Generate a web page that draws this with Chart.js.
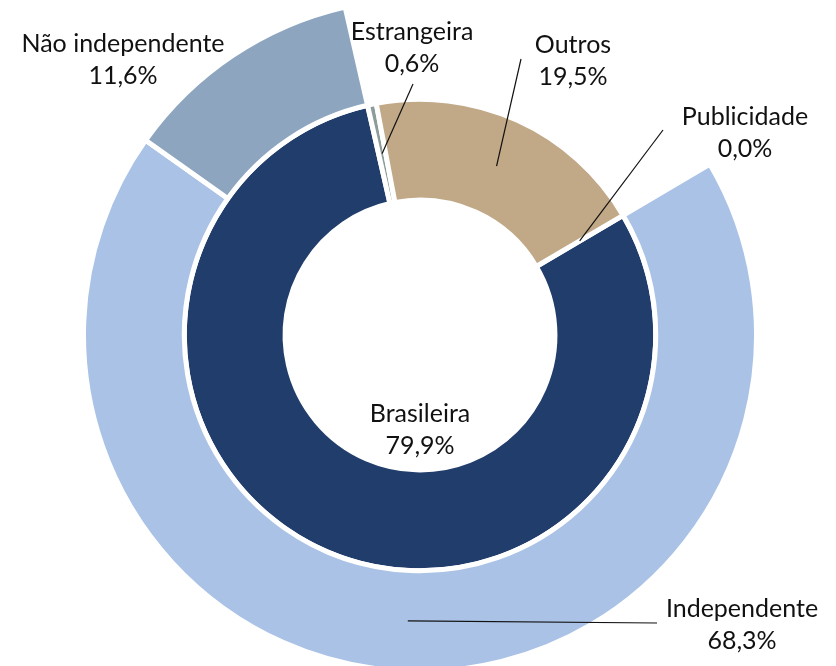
<!DOCTYPE html>
<html>
<head>
<meta charset="utf-8">
<script src="https://cdn.jsdelivr.net/npm/chart.js@4.4.1/dist/chart.umd.min.js"></script>
<style>
  html, body { margin: 0; padding: 0; background: #fff; }
  #chart { display: block; }
</style>
</head>
<body>
<canvas id="chart" width="836" height="666"></canvas>
<script>
// inner ring: origem
const innerLabels = ['Brasileira', 'Estrangeira', 'Outros', 'Publicidade'];
const innerValues = [79.9, 0.6, 19.5, 0.0];
// outer ring: split of Brasileira
const outerLabels = ['Independente', 'Não independente', ''];
const outerShown = [68.3, 11.6];

const sum = arr => arr.reduce((a, b) => a + b, 0);
// the outer ring only covers the Brasileira slice, the rest stays empty
const outerValues = outerShown.concat([+(sum(innerValues) - sum(outerShown)).toFixed(1)]);

const innerColors = ['#213D6B', '#8C9C99', '#C1A887', '#C1A887'];
const outerColors = ['#A9C2E6', '#8EA5C0', 'rgba(0,0,0,0)'];

// where each label sits and where its leader line starts (null = no line)
const labelLayout = {
  'Brasileira':       { ds: 1, x: 420, y: 422, lead: null },
  'Estrangeira':      { ds: 1, x: 412, y: 40,  lead: [413, 84] },
  'Outros':           { ds: 1, x: 573, y: 53,  lead: [521, 59] },
  'Publicidade':      { ds: 1, x: 745, y: 125, lead: [663, 130] },
  'Independente':     { ds: 0, x: 742, y: 617, lead: [657, 623] },
  'Não independente': { ds: 0, x: 123, y: 52,  lead: null }
};

const fmt = v => v.toFixed(1).replace('.', ',') + '%';

const labelPlugin = {
  id: 'ringLabels',
  afterDraw(chart) {
    const ctx = chart.ctx;
    ctx.save();
    ctx.font = '25px Lato, "Noto Sans", sans-serif';
    ctx.fillStyle = '#111';
    ctx.strokeStyle = '#111';
    ctx.lineWidth = 1.2;
    ctx.textAlign = 'center';
    ctx.textBaseline = 'alphabetic';
    Object.keys(labelLayout).forEach(name => {
      const lay = labelLayout[name];
      const labels = lay.ds === 0 ? outerLabels : innerLabels;
      const values = lay.ds === 0 ? outerValues : innerValues;
      const i = labels.indexOf(name);
      const arc = chart.getDatasetMeta(lay.ds).data[i];
      if (lay.lead && arc) {
        const p = arc.tooltipPosition();
        ctx.beginPath();
        ctx.moveTo(lay.lead[0], lay.lead[1]);
        ctx.lineTo(p.x, p.y);
        ctx.stroke();
      }
      ctx.fillText(name, lay.x, lay.y);
      ctx.fillText(fmt(values[i]), lay.x, lay.y + 32);
    });
    ctx.restore();
  }
};

new Chart(document.getElementById('chart'), {
  type: 'doughnut',
  data: {
    labels: innerLabels,
    datasets: [
      {
        data: outerValues,
        backgroundColor: outerColors,
        borderColor: ['#fff', '#fff', 'rgba(0,0,0,0)'],
        borderWidth: 5,
        clip: false
      },
      {
        data: innerValues,
        backgroundColor: innerColors,
        borderColor: '#fff',
        borderWidth: 5,
        clip: false
      }
    ]
  },
  options: {
    responsive: false,
    animation: false,
    events: [],
    rotation: 59.5,
    radius: 336.5,
    cutout: '40.1%',
    layout: { padding: { left: 4, top: 4, right: 0, bottom: 0 } },
    plugins: {
      legend: { display: false },
      tooltip: { enabled: false }
    }
  },
  plugins: [labelPlugin]
});
</script>
</body>
</html>
